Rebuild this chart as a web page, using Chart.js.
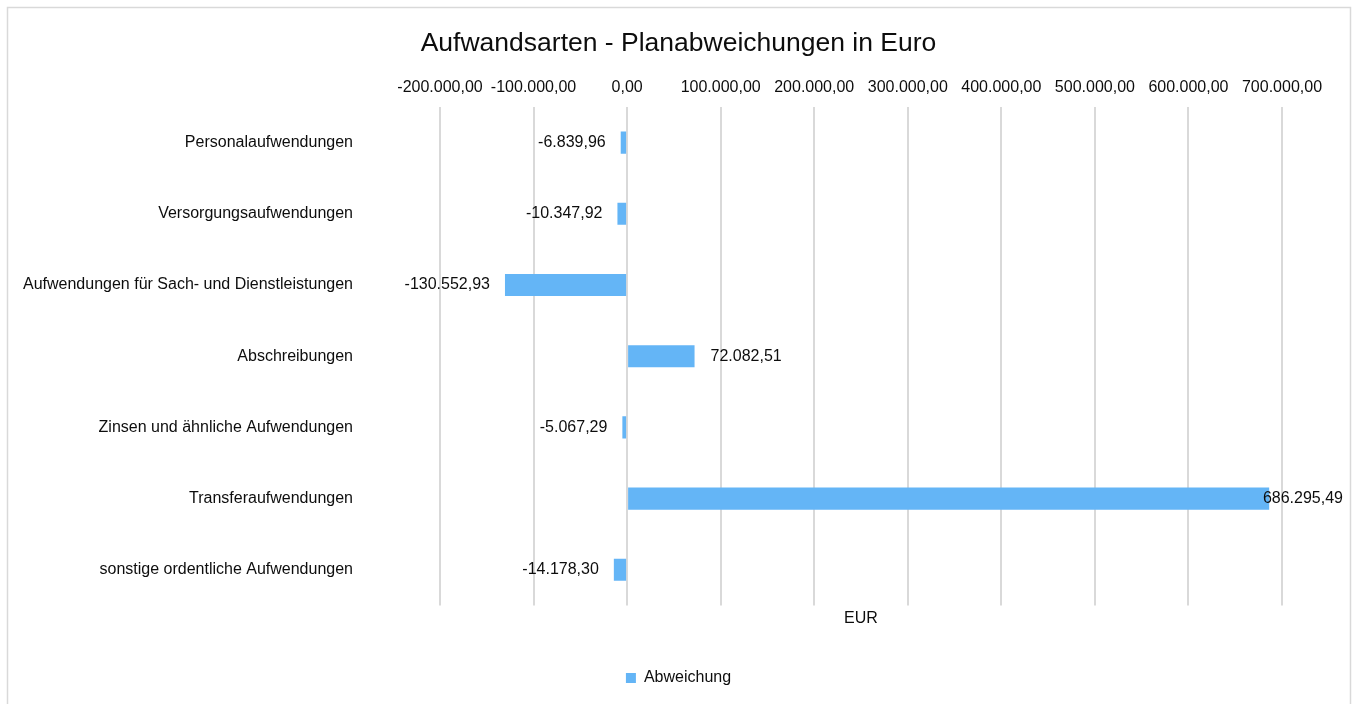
<!DOCTYPE html>
<html>
<head>
<meta charset="utf-8">
<script src="https://cdn.jsdelivr.net/npm/chart.js@4/dist/chart.umd.min.js"></script>
<style>
  html, body { margin: 0; padding: 0; background: #fff; }
  #wrap { width: 1357px; height: 704px; }
</style>
</head>
<body>
<div id="wrap"><canvas id="chart" width="1357" height="704"></canvas></div>
<script>
const categories = [
  'Personalaufwendungen',
  'Versorgungsaufwendungen',
  'Aufwendungen für Sach- und Dienstleistungen',
  'Abschreibungen',
  'Zinsen und ähnliche Aufwendungen',
  'Transferaufwendungen',
  'sonstige ordentliche Aufwendungen'
];
const deviation = [-6839.96, -10347.92, -130552.93, 72082.51, -5067.29, 686295.49, -14178.30];
const axisMin = -200000;
const axisMax = 700000;
const axisStep = 100000;

function fmt(v) {
  var neg = v < 0;
  var parts = Math.abs(v).toFixed(2).split('.');
  var intPart = parts[0].replace(/\B(?=(\d{3})+(?!\d))/g, '.');
  return (neg ? '-' : '') + intPart + ',' + parts[1];
}

const textColor = '#0d0d0d';
const font = 'Liberation Sans, Arial, sans-serif';

// light frame round the chart, like the spreadsheet chart area
const framePlugin = {
  id: 'frame',
  beforeDraw(chart) {
    const ctx = chart.ctx;
    ctx.save();
    ctx.fillStyle = '#ffffff';
    ctx.fillRect(0, 0, chart.width, chart.height);
    ctx.strokeStyle = '#d9d9d9';
    ctx.lineWidth = 1.5;
    ctx.strokeRect(7.5, 7.5, 1343, 720);
    ctx.restore();
  }
};

// value labels at the end of each bar
const valueLabels = {
  id: 'valueLabels',
  afterDatasetsDraw(chart) {
    const ctx = chart.ctx;
    const meta = chart.getDatasetMeta(0);
    ctx.save();
    ctx.font = '16px ' + font;
    ctx.fillStyle = textColor;
    ctx.textBaseline = 'middle';
    meta.data.forEach(function(bar, i) {
      const v = deviation[i];
      const txt = fmt(v);
      if (v < 0) {
        ctx.textAlign = 'right';
        ctx.fillText(txt, bar.x - 15, bar.y);
      } else {
        const w = ctx.measureText(txt).width;
        var x = bar.x + 16;
        if (x + w > 1343) x = 1343 - w;
        ctx.textAlign = 'left';
        ctx.fillText(txt, x, bar.y);
      }
    });
    ctx.restore();
  }
};

const config = {
  type: 'bar',
  data: {
    labels: categories,
    datasets: [{
      label: 'Abweichung',
      data: deviation,
      backgroundColor: '#64b5f6',
      borderColor: '#64b5f6',
      borderWidth: 0,
      categoryPercentage: 1,
      barPercentage: 0.31
    }]
  },
  options: {
    indexAxis: 'y',
    responsive: false,
    animation: false,
    layout: { padding: { left: 0, right: 0, top: 0, bottom: 8 } },
    scales: {
      x: {
        position: 'top',
        min: axisMin,
        max: axisMax,
        grid: { color: '#d9d9d9', lineWidth: 2, drawTicks: false },
        border: { display: false },
        ticks: {
          stepSize: axisStep,
          padding: 10,
          color: textColor,
          font: { family: font, size: 16 },
          maxRotation: 0,
          autoSkip: false,
          callback: function(v) { return fmt(v); }
        },
        afterFit: function(scale) { scale.height = 47.1; }
      },
      x2: {
        type: 'linear',
        position: 'bottom',
        min: axisMin,
        max: axisMax,
        grid: { display: false },
        border: { display: false },
        ticks: { display: false },
        title: {
          display: true,
          text: 'EUR',
          color: textColor,
          font: { family: font, size: 16 },
          padding: { top: 0, bottom: 32 }
        },
        afterFit: function(scale) { scale.height = 54.6; }
      },
      y: {
        grid: { display: false, drawTicks: false },
        border: { display: false },
        ticks: {
          padding: 87,
          color: textColor,
          font: { family: font, size: 16 }
        },
        afterFit: function(scale) { scale.width = 440; }
      },
      y2: {
        type: 'category',
        position: 'right',
        grid: { display: false, drawTicks: false },
        border: { display: false },
        ticks: { display: false },
        afterFit: function(scale) { scale.width = 75; }
      }
    },
    plugins: {
      title: {
        display: true,
        text: 'Aufwandsarten - Planabweichungen in Euro',
        color: textColor,
        font: { family: font, size: 26.5, weight: 'normal' },
        padding: { top: 28.1, bottom: 0 }
      },
      legend: {
        position: 'bottom',
        labels: {
          boxWidth: 10,
          boxHeight: 10,
          padding: 10,
          color: textColor,
          font: { family: font, size: 16 }
        }
      },
      tooltip: { enabled: false }
    }
  },
  plugins: [framePlugin, valueLabels]
};

const chart = new Chart(document.getElementById('chart'), config);
</script>
</body>
</html>
